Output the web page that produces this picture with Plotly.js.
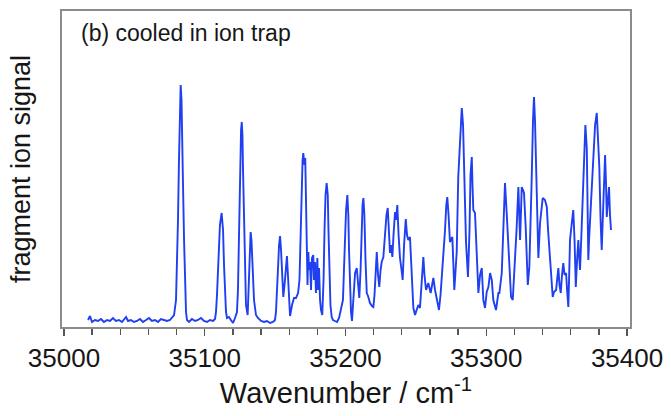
<!DOCTYPE html>
<html>
<head>
<meta charset="utf-8">
<script src="https://cdn.plot.ly/plotly-3.0.1.min.js"></script>
<style>html,body{margin:0;padding:0;background:#fff;}#chart{width:671px;height:416px;}</style>
</head>
<body>
<div id="chart"></div>
<script>
// Wavenumber (cm^-1)
const wavenumber = [
35017.1,35018.5,35019.9,35022.0,35024.2,35026.3,35028.4,35030.6,35032.7,35034.8,
35036.9,35039.1,35041.2,35043.3,35044.1,35045.5,35047.6,35049.7,35051.9,35054.0,
35056.1,35058.3,35060.4,35062.5,35064.7,35066.8,35068.9,35071.0,35073.2,35075.3,
35076.7,35078.2,35079.6,35080.3,35081.0,35081.7,35082.4,35082.9,35083.5,35083.8,
35084.5,35085.3,35086.0,35086.7,35087.4,35088.8,35090.9,35093.1,35095.2,35097.3,
35099.5,35101.6,35103.7,35105.9,35107.3,35108.0,35108.7,35109.4,35110.1,35110.8,
35112.0,35113.0,35113.7,35114.4,35115.1,35115.8,35117.2,35118.6,35120.1,35121.5,
35122.9,35123.6,35124.3,35125.0,35125.8,35126.3,35126.8,35127.2,35127.9,35128.6,
35129.3,35130.5,35131.1,35131.8,35132.6,35133.2,35133.9,35135.0,35136.4,35137.8,
35140.0,35142.1,35144.2,35146.4,35148.5,35149.9,35150.6,35151.3,35152.0,35152.8,
35153.5,35154.2,35154.9,35155.8,35156.7,35157.7,35158.4,35159.1,35159.9,35160.6,
35162.0,35163.4,35164.8,35166.3,35167.3,35168.0,35168.7,35169.5,35170.0,35170.9,
35171.4,35171.9,35172.4,35173.0,35173.6,35174.1,35174.8,35175.5,35176.2,35177.1,
35177.6,35178.3,35179.0,35180.0,35180.5,35181.2,35181.9,35182.6,35183.5,35184.4,
35185.1,35185.8,35186.6,35187.4,35187.9,35188.6,35189.3,35190.2,35191.1,35192.5,
35194.0,35195.4,35196.4,35197.3,35198.2,35198.9,35199.6,35200.4,35201.3,35202.0,
35202.5,35203.2,35203.9,35204.6,35205.7,35206.8,35208.0,35208.5,35209.8,35210.7,
35211.4,35212.1,35212.7,35213.4,35214.2,35215.1,35216.0,35217.4,35218.8,35219.8,
35220.6,35221.3,35222.2,35223.1,35224.0,35224.9,35225.7,35226.9,35228.1,35229.1,
35230.0,35230.6,35231.6,35232.3,35233.3,35234.1,35235.2,35235.9,35236.8,35237.7,
35238.7,35239.8,35240.6,35241.6,35242.8,35243.7,35244.6,35245.8,35246.9,35248.2,
35249.4,35250.5,35251.7,35252.9,35254.0,35255.3,35256.1,35257.2,35258.8,35260.5,
35261.5,35262.4,35263.6,35264.8,35266.4,35267.5,35268.6,35269.5,35270.7,35271.6,
35272.3,35273.2,35274.2,35275.9,35277.3,35278.2,35279.0,35280.1,35281.3,35282.6,
35283.5,35284.5,35285.6,35287.0,35288.1,35288.8,35289.7,35290.2,35290.8,35292.0,
35293.1,35294.4,35295.6,35296.8,35297.9,35299.1,35300.3,35301.5,35302.7,35303.9,
35305.0,35306.2,35306.9,35308.6,35309.3,35311.0,35312.1,35313.3,35314.5,35315.5,
35316.4,35317.6,35318.8,35319.7,35320.4,35321.5,35322.8,35323.3,35324.0,35324.7,
35325.2,35326.1,35326.8,35328.0,35329.5,35330.6,35331.4,35332.3,35333.2,35333.9,
35334.6,35335.8,35337.0,35338.2,35339.3,35340.1,35341.7,35343.0,35343.9,35345.3,
35346.4,35347.2,35348.1,35349.6,35350.3,35351.2,35352.0,35352.9,35353.8,35354.7,
35355.6,35356.7,35357.4,35358.3,35358.8,35359.5,35360.6,35361.8,35362.7,35363.6,
35364.5,35365.4,35365.9,35366.6,35367.7,35368.5,35369.5,35370.4,35371.4,35371.9,
35372.5,35373.0,35373.7,35374.8,35376.1,35377.3,35378.5,35379.4,35380.3,35381.2,
35382.0,35383.0,35383.7,35384.4,35385.1,35385.6,35386.5,35387.2,35387.9,35388.6
];
// Fragment ion signal (arbitrary units)
const signal = [
1,5,-1,1,0,2,-1,1,0,3,
0,1,-1,2,4,0,1,-1,0,2,
-1,1,3,0,1,-1,2,1,0,1,
3,6,21,51,101,161,211,236,221,181,
141,81,31,9,1,-1,2,0,1,3,
0,-1,1,0,2,9,26,51,76,96,
108,91,56,26,9,3,4,1,-2,3,
9,31,91,161,191,199,186,151,91,41,
16,6,31,76,89,81,51,21,6,3,
0,-1,0,-2,-1,1,9,26,51,76,
85,71,46,24,36,59,65,46,21,5,
16,23,23,28,41,81,131,161,168,156,
163,121,71,36,69,51,59,31,63,66,
41,59,28,63,31,53,21,11,6,41,
91,126,138,126,91,41,16,4,1,0,
-1,3,9,16,21,51,83,111,126,106,
71,31,9,0,21,48,53,43,23,51,
91,116,123,106,61,28,25,18,15,14,
26,51,69,46,34,51,59,64,88,106,
113,91,68,76,64,86,109,101,116,86,
63,51,41,76,102,86,81,84,46,13,
6,11,16,13,36,64,46,31,38,28,
36,43,31,21,11,26,46,61,91,116,
124,106,79,84,31,51,69,144,186,213,
196,141,79,44,91,146,164,136,111,108,
71,28,46,53,21,13,29,34,48,41,
21,13,11,28,28,48,88,138,108,76,
48,24,21,41,61,91,134,111,81,111,
134,131,128,94,36,54,91,144,201,224,
201,144,63,98,116,123,121,114,91,61,
36,24,29,31,41,53,36,28,46,58,
46,48,31,14,41,81,96,111,81,34,
61,81,66,51,91,124,171,196,173,121,
61,81,101,131,173,196,208,181,154,101,
71,111,146,166,136,104,121,134,106,91
];
const xTickVals = [35000, 35100, 35200, 35300, 35400];
const xTickText = ["35000", "35100", "35200", "35300", "35400"];

const FONT = "Liberation Sans, Arial, Helvetica, sans-serif";
const frameColor = "#8c8c8c";

const trace = {
  x: wavenumber, y: signal, type: "scatter", mode: "lines",
  line: {color: "#1f3ff0", width: 1.9}, hoverinfo: "skip"
};

const layout = {
  width: 671, height: 416,
  margin: {l: 62, r: 41, t: 11, b: 89},
  paper_bgcolor: "#ffffff", plot_bgcolor: "#ffffff",
  showlegend: false,
  font: {family: FONT, color: "#161616"},
  xaxis: {
    range: [34998.6, 35402.1],
    tickmode: "array", tickvals: xTickVals, ticktext: xTickText,
    ticks: "outside", ticklen: 7, tickwidth: 1.3, tickcolor: "#555",
    minor: {dtick: 20, tick0: 35000, ticks: "outside", ticklen: 6, tickwidth: 1.3, tickcolor: "#555"},
    showline: true, linecolor: frameColor, linewidth: 2, mirror: true,
    showgrid: false, zeroline: false,
    tickfont: {family: FONT, size: 26, color: "#161616"},
    title: {text: "Wavenumber / cm<sup>-1</sup>", font: {family: FONT, size: 29, color: "#161616"}, standoff: 10}
  },
  yaxis: {
    range: [-6, 310],
    showticklabels: false, ticks: "",
    showline: true, linecolor: frameColor, linewidth: 2, mirror: true,
    showgrid: false, zeroline: false
  },
  annotations: [
    {text: "(b) cooled in ion trap", xref: "paper", yref: "paper",
     x: 0.03, y: 0.93, xanchor: "left", yanchor: "middle", showarrow: false,
     font: {family: FONT, size: 23, color: "#161616"}},
    {text: "fragment ion signal", xref: "paper", yref: "paper",
     x: -0.072, y: 0.5, xanchor: "center", yanchor: "middle", textangle: -90, showarrow: false,
     font: {family: FONT, size: 27, color: "#161616"}}
  ]
};

Plotly.newPlot("chart", [trace], layout, {staticPlot: true, displayModeBar: false});
</script>
</body>
</html>
